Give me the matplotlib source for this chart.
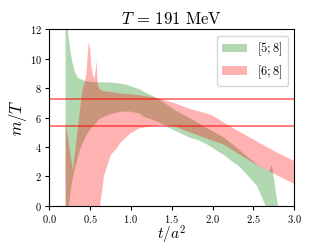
import matplotlib
matplotlib.use('Agg')
import matplotlib.pyplot as plt

plt.rcParams['font.family'] = 'serif'
plt.rcParams['font.serif'] = ['cmr10', 'DejaVu Serif']
plt.rcParams['mathtext.fontset'] = 'cm'
plt.rcParams['axes.formatter.use_mathtext'] = True

# band [5;8] (green)
x_g = [0.196, 0.216, 0.236, 0.257, 0.28, 0.30, 0.318, 0.34, 0.38, 0.42, 0.44, 0.50, 0.55,
       0.62, 0.75, 0.87, 0.95, 1.0, 1.11, 1.15, 1.3, 1.36, 1.52, 1.56, 1.73, 1.81, 1.93,
       2.13, 2.34, 2.54, 2.645, 2.685, 2.72, 2.795, 2.80]
up_g = [14.0, 12.3, 11.4, 10.47, 9.8, 9.35, 9.05, 8.79, 8.65, 8.56, 8.52, 8.47, 8.45,
        8.44, 8.42, 8.35, 8.25, 8.15, 7.95, 7.8, 7.4, 7.2, 6.6, 6.45, 5.95, 5.7, 5.3,
        4.7, 3.75, 2.83, 2.5, 2.38, 2.8, 0.0, -0.5]
lo_g = [-1.0, -0.5, 0.0, 1.0, 1.8, 2.3, 2.72, 3.2, 3.96, 4.45, 4.74, 5.24, 5.55,
        5.98, 6.27, 6.43, 6.45, 6.43, 6.3, 6.09, 5.8, 5.64, 5.18, 5.08, 4.63, 4.52, 4.2,
        3.5, 2.61, 1.37, 0.0, -0.3, -0.5, -0.8, -1.0]

# band [6;8] (red)
x_r = [0.196, 0.286, 0.40, 0.43, 0.45, 0.465, 0.48, 0.495, 0.51, 0.53, 0.55, 0.565,
       0.575, 0.582, 0.59, 0.60, 0.616, 0.65, 0.665, 0.75, 0.83, 0.87, 0.99, 1.1,
       1.24, 1.36, 1.48, 1.5, 1.73, 1.93, 2.0, 2.13, 2.3, 2.54, 2.75, 3.0]
up_r = [5.75, 2.43, 7.9, 8.4, 9.0, 10.2, 11.15, 10.8, 9.6, 8.9, 8.7, 9.3,
        9.9, 9.0, 8.3, 8.1, 7.95, 7.85, 7.83, 7.78, 7.7, 7.67, 7.62, 7.55,
        7.44, 7.3, 7.1, 7.07, 6.6, 6.3, 6.15, 5.7, 5.15, 4.4, 3.75, 3.06]
lo_r = [-1.0, -1.0, -1.0, -1.0, -1.0, -1.0, -1.0, -1.0, -1.0, -1.0, -0.9, -0.8,
        -0.7, -0.6, -0.5, -0.3, 0.0, 1.3, 2.04, 3.5, 4.0, 4.35, 4.95, 5.3,
        5.45, 5.53, 5.52, 5.5, 5.0, 4.6, 4.45, 4.2, 3.6, 2.8, 2.2, 1.5]

# horizontal lines
lines_y = [7.25, 5.43]

fig = plt.figure(figsize=(3.27, 2.45), dpi=100)
ax = fig.add_subplot(111)
fig.subplots_adjust(left=0.15, right=0.9, top=0.88, bottom=0.16)

ax.fill_between(x_g, lo_g, up_g, color='green', alpha=0.3, lw=0, label=r'$[5;8]$')
ax.fill_between(x_r, lo_r, up_r, color='red', alpha=0.3, lw=0, label=r'$[6;8]$')
for yy in lines_y:
    ax.axhline(yy, color='red', alpha=0.6, lw=1.2)

ax.set_xlim(0, 3)
ax.set_ylim(0, 12)
ax.set_xticks([0.0, 0.5, 1.0, 1.5, 2.0, 2.5, 3.0])
ax.set_yticks([0, 2, 4, 6, 8, 10, 12])
ax.tick_params(labelsize=7.5, length=3, pad=2)
ax.set_xlabel(r'$t/a^2$', fontsize=11, labelpad=-1)
ax.set_ylabel(r'$m/T$', fontsize=12, labelpad=1)
ax.set_title(r'$T$ = 191 MeV', fontsize=12, pad=4)
ax.legend(loc='upper right', fontsize=9, handlelength=2.0, labelspacing=0.4)

fig.savefig('out.png', dpi=100)
